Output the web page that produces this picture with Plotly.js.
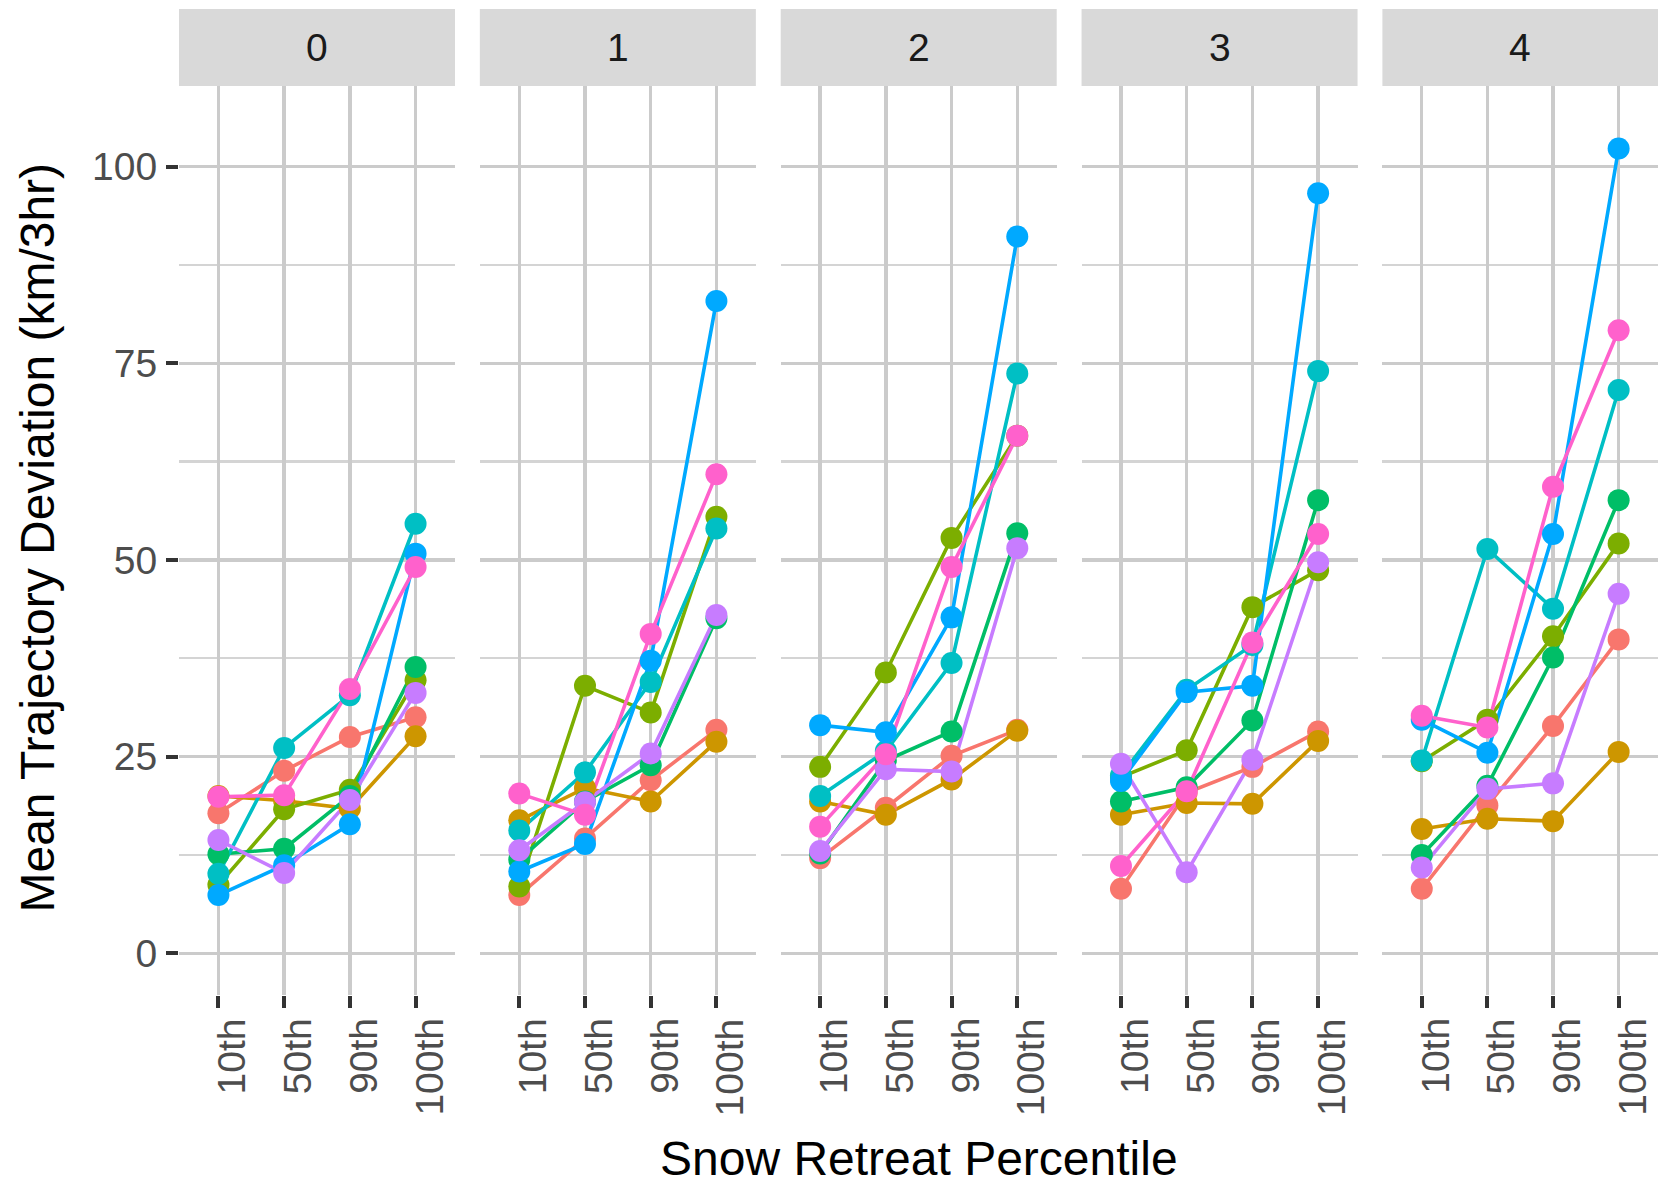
<!DOCTYPE html>
<html>
<head>
<meta charset="utf-8">
<script src="https://cdn.plot.ly/plotly-3.0.1.min.js"></script>
<style>
  html, body { margin: 0; padding: 0; background: #ffffff; }
  #chart { width: 1658px; height: 1186px; }
</style>
</head>
<body>
<div id="chart"></div>
<script>
// Facet labels and x categories
const facets = ['0', '1', '2', '3', '4'];
const percentiles = ['10th', '50th', '90th', '100th'];

// Mean trajectory deviation (km/3hr), one row per facet, one value per percentile
const groupA = [[17.8, 23.2, 27.5, 30.0], [7.4, 14.6, 22.0, 28.4], [12.1, 18.5, 25.1, 28.4], [8.2, 20.4, 23.7, 28.2], [8.2, 18.8, 28.9, 39.9]];
const groupB = [[20.0, 19.4, 18.4, 27.6], [16.9, 21.0, 19.3, 26.9], [19.3, 17.6, 22.1, 28.3], [17.6, 19.1, 19.0, 27.0], [15.8, 17.1, 16.8, 25.6]];
const groupC = [[8.7, 18.3, 20.8, 34.7], [8.5, 34.0, 30.6, 55.5], [23.7, 35.7, 52.8, 65.8], [22.4, 25.8, 44.0, 48.7], [24.4, 29.7, 40.3, 52.1]];
const groupD = [[12.6, 13.3, 20.0, 36.4], [11.9, 19.3, 23.9, 42.6], [12.7, 24.5, 28.2, 53.4], [19.3, 21.1, 29.6, 57.6], [12.5, 21.3, 37.6, 57.6]];
const groupE = [[10.1, 26.1, 32.8, 54.6], [15.6, 23.0, 34.5, 54.0], [20.0, 25.7, 36.9, 73.7], [22.6, 33.5, 39.2, 74.0], [24.5, 51.4, 43.8, 71.6]];
const groupF = [[7.4, 11.2, 16.4, 50.8], [10.4, 13.9, 37.2, 82.9], [29.0, 28.1, 42.7, 91.1], [21.9, 33.2, 34.0, 96.6], [29.7, 25.5, 53.3, 102.3]];
const groupG = [[14.4, 10.2, 19.5, 33.1], [13.1, 19.2, 25.4, 43.0], [13.0, 23.4, 23.1, 51.5], [24.1, 10.3, 24.6, 49.7], [10.9, 20.9, 21.6, 45.7]];
const groupH = [[19.9, 20.1, 33.6, 49.1], [20.3, 17.6, 40.6, 60.9], [16.1, 25.3, 49.1, 65.8], [11.1, 20.6, 39.5, 53.3], [30.2, 28.7, 59.3, 79.2]];

const groups = [groupA, groupB, groupC, groupD, groupE, groupF, groupG, groupH];
const groupColors = ['#F8766D', '#CD9600', '#7CAE00', '#00BE67', '#00BFC4', '#00A9FF', '#C77CFF', '#FF61CC'];

const FONT = '"Liberation Sans", Arial, Helvetica, sans-serif';
const W = 1658, H = 1186;
const margin = { l: 179, r: 0, t: 86, b: 191 };
const plotW = W - margin.l - margin.r;   // 1479
const plotH = H - margin.t - margin.b;   // 909
const panelStep = 300.85, panelW = 276;
const stripH = 77;

const gridMajor = '#CBCBCB';
const gridMinor = '#D4D4D4';
const tickColor = '#333333';

function axisName(k, letter) { return k === 0 ? letter : letter + (k + 1); }

const traces = [];
// lines below all points
for (let k = 0; k < facets.length; k++) {
  groups.forEach((g, i) => {
    traces.push({
      type: 'scatter', mode: 'lines',
      x: percentiles, y: g[k],
      xaxis: axisName(k, 'x'), yaxis: axisName(k, 'y'),
      line: { color: groupColors[i], width: 3.6 },
      hoverinfo: 'skip', showlegend: false
    });
  });
}
for (let k = 0; k < facets.length; k++) {
  groups.forEach((g, i) => {
    traces.push({
      type: 'scatter', mode: 'markers',
      x: percentiles, y: g[k],
      xaxis: axisName(k, 'x'), yaxis: axisName(k, 'y'),
      marker: { color: groupColors[i], size: 22, line: { width: 0 } },
      showlegend: false
    });
  });
}

const layout = {
  width: W, height: H,
  margin: margin,
  paper_bgcolor: '#ffffff',
  plot_bgcolor: '#ffffff',
  showlegend: false,
  font: { family: FONT, color: '#4D4D4D' },
  shapes: [],
  annotations: []
};

for (let k = 0; k < facets.length; k++) {
  const x0 = (panelStep * k) / plotW;
  const x1 = Math.min(1, (panelStep * k + panelW) / plotW);
  const xa = 'xaxis' + (k === 0 ? '' : k + 1);
  const ya = 'yaxis' + (k === 0 ? '' : k + 1);
  const xName = axisName(k, 'x');
  const yName = axisName(k, 'y');

  layout[xa] = {
    domain: [x0, x1],
    anchor: yName,
    type: 'category',
    categoryorder: 'array',
    categoryarray: percentiles,
    range: [-0.6, 3.6],
    showgrid: true, gridcolor: gridMajor, gridwidth: 3.4,
    zeroline: false, showline: false,
    ticks: 'outside', ticklen: 12, tickwidth: 4, tickcolor: tickColor,
    showticklabels: false,
    fixedrange: true
  };
  layout[ya] = {
    domain: [0, 1],
    anchor: xName,
    range: [-5.3, 110.24],
    tickvals: [0, 25, 50, 75, 100],
    showgrid: true, gridcolor: gridMajor, gridwidth: 3.4,
    minor: { tickvals: [12.5, 37.5, 62.5, 87.5], showgrid: true, gridcolor: gridMinor, gridwidth: 2.2, ticks: '' },
    zeroline: false, showline: false,
    ticks: k === 0 ? 'outside' : '',
    ticklen: 12, tickwidth: 4, tickcolor: tickColor,
    showticklabels: k === 0,
    ticklabelstandoff: 1,
    tickfont: { family: FONT, size: 39, color: '#4D4D4D' },
    fixedrange: true
  };

  // facet strip
  layout.shapes.push({
    type: 'rect', xref: xName + ' domain', yref: 'paper',
    x0: 0, x1: 1, y0: 1, y1: 1 + stripH / plotH,
    fillcolor: '#D9D9D9', line: { width: 0 }, layer: 'below'
  });
  layout.annotations.push({
    xref: xName + ' domain', yref: 'paper',
    x: 0.5, y: 1 + (stripH / 2) / plotH,
    xanchor: 'center', yanchor: 'middle',
    text: facets[k], showarrow: false,
    font: { family: FONT, size: 39, color: '#1A1A1A' }
  });

  // rotated percentile labels under each tick
  percentiles.forEach(p => {
    layout.annotations.push({
      xref: xName, yref: 'paper',
      x: p, y: 0,
      xanchor: 'center', yanchor: 'top',
      xshift: 13, yshift: -21,
      textangle: -90,
      text: p, showarrow: false,
      font: { family: FONT, size: 39, color: '#4D4D4D' }
    });
  });
}

// axis titles
layout.annotations.push({
  xref: 'paper', yref: 'paper',
  x: 0.5, y: 0, xanchor: 'center', yanchor: 'top', yshift: -135,
  text: 'Snow Retreat Percentile', showarrow: false,
  font: { family: FONT, size: 48, color: '#000000' }
});
layout.annotations.push({
  xref: 'paper', yref: 'paper',
  x: (37 - margin.l) / plotW, y: (995 - 537.5) / plotH,
  xanchor: 'center', yanchor: 'middle', textangle: -90,
  text: 'Mean Trajectory Deviation (km/3hr)', showarrow: false,
  font: { family: FONT, size: 48, color: '#000000' }
});

Plotly.newPlot('chart', traces, layout, { displayModeBar: false, staticPlot: true });
</script>
</body>
</html>
